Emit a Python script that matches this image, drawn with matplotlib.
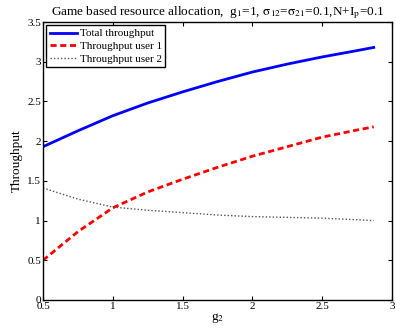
import numpy as np
import matplotlib
matplotlib.use('Agg')
import matplotlib.pyplot as plt

plt.rcParams['font.family'] = ['Liberation Serif', 'DejaVu Serif']
plt.rcParams['mathtext.fontset'] = 'stix'

# values
g2 = [0.5, 0.75, 1.0, 1.25, 1.5, 1.75, 2.0, 2.25, 2.5, 2.75, 2.87]
total = [1.93, 2.13, 2.32, 2.48, 2.62, 2.75, 2.87, 2.97, 3.06, 3.14, 3.18]
user1 = [0.50, 0.86, 1.16, 1.36, 1.52, 1.67, 1.81, 1.93, 2.05, 2.14, 2.18]
user2 = [1.41, 1.27, 1.17, 1.13, 1.10, 1.07, 1.05, 1.04, 1.03, 1.01, 1.00]

xticks = [0.5, 1, 1.5, 2, 2.5, 3]
xticklabels = ['0.5', '1', '1.5', '2', '2.5', '3']
yticks = [0, 0.5, 1, 1.5, 2, 2.5, 3, 3.5]
yticklabels = ['0', '0.5', '1', '1.5', '2', '2.5', '3', '3.5']

fig = plt.figure(figsize=(3.96, 3.31), dpi=100)
ax = fig.add_axes([0.1086, 0.0937, 0.881, 0.8398])

ax.plot(g2, total, color='#0000ff', lw=2, label='Total throughput')
ax.plot(g2, user1, color='#ff0000', lw=2, ls=(0, (2.2, 1.3)), label='Throughput user 1')
ax.plot(g2, user2, color='#555555', lw=1, ls=(0, (1, 1.5)), label='Throughput user 2')

ax.set_xlim(0.5, 3)
ax.set_ylim(0, 3.5)
ax.set_xticks(xticks)
ax.set_xticklabels(xticklabels)
ax.set_yticks(yticks)
ax.set_yticklabels(yticklabels)
ax.tick_params(direction='in', top=True, right=True, labelsize=8,
               length=3, width=0.8, pad=1.5)
for s in ax.spines.values():
    s.set_linewidth(1.0)

ax.set_xlabel('g$_\\mathrm{2}$', fontsize=9.5, labelpad=0)
ax.set_ylabel('Throughput', fontsize=9.5, labelpad=3)
ax.set_title('Game based resource allocation,  g$_\\mathrm{1}$=1, '
             '$\\mathrm{\\sigma}_\\mathrm{12}$=$\\mathrm{\\sigma}_\\mathrm{21}$=0.1,'
             'N+I$_\\mathrm{p}$=0.1',
             fontsize=9.5, pad=5)

leg = ax.legend(loc='upper left', fontsize=8, frameon=True, fancybox=False,
                edgecolor='black', framealpha=1, borderpad=0.3,
                labelspacing=0.25, handlelength=2.5, handletextpad=0.2,
                borderaxespad=0.3)
leg.get_frame().set_linewidth(1.0)

fig.savefig('out.png', dpi=100)
